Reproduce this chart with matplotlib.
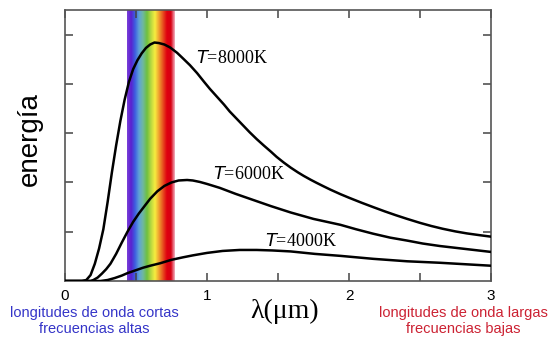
import numpy as np
import matplotlib
matplotlib.use("Agg")
import matplotlib.pyplot as plt
from matplotlib.colors import LinearSegmentedColormap

# curves: wavelength (um), energy (tick units)
lam_8000 = [0.0, 0.12, 0.15, 0.18, 0.21, 0.24, 0.27, 0.30, 0.33, 0.36, 0.39, 0.42,
            0.45, 0.48, 0.51, 0.54, 0.57, 0.60, 0.63, 0.66, 0.70, 0.74, 0.79, 0.83,
            0.88, 0.93, 0.98, 1.02, 1.07, 1.12, 1.16, 1.21, 1.26, 1.30, 1.35, 1.40,
            1.45, 1.49, 1.54, 1.59, 1.64, 1.68, 1.73, 1.77, 1.82, 1.87, 1.94, 2.0,
            2.09, 2.17, 2.25, 2.33, 2.41, 2.50, 2.58, 2.66, 2.75, 2.83, 2.92, 3.0]
e_8000 = [0.0, 0.0, 0.02, 0.12, 0.35, 0.66, 1.05, 1.6, 2.2, 2.75, 3.25, 3.68,
          4.04, 4.3, 4.48, 4.62, 4.73, 4.8, 4.84, 4.83, 4.8, 4.74, 4.63, 4.52,
          4.38, 4.22, 4.04, 3.9, 3.74, 3.58, 3.44, 3.29, 3.14, 3.02, 2.88, 2.75,
          2.625, 2.52, 2.405, 2.30, 2.205, 2.135, 2.055, 1.995, 1.923, 1.853, 1.762, 1.69,
          1.587, 1.5, 1.415, 1.335, 1.26, 1.18, 1.116, 1.06, 1.006, 0.966, 0.93, 0.9]

lam_6000 = [0.0, 0.18, 0.2, 0.23, 0.26, 0.29, 0.32, 0.36, 0.40, 0.44, 0.48, 0.52,
            0.56, 0.60, 0.65, 0.70, 0.75, 0.80, 0.86, 0.90, 0.95, 1.0, 1.09, 1.2,
            1.35, 1.45, 1.59, 1.75, 1.94, 2.05, 2.17, 2.29, 2.41, 2.52, 2.64, 2.82, 3.0]
e_6000 = [0.0, 0.0, 0.02, 0.07, 0.15, 0.24, 0.35, 0.55, 0.78, 1.0, 1.2, 1.37,
          1.52, 1.67, 1.82, 1.93, 2.0, 2.04, 2.05, 2.04, 2.01, 1.97, 1.89, 1.77,
          1.62, 1.52, 1.39, 1.26, 1.14, 1.05, 0.96, 0.88, 0.82, 0.76, 0.71, 0.65, 0.59]

lam_4000 = [0.0, 0.25, 0.3, 0.35, 0.40, 0.44, 0.5, 0.55, 0.6, 0.67, 0.75, 0.83,
            0.9, 1.0, 1.11, 1.23, 1.35, 1.46, 1.59, 1.76, 1.94, 2.17, 2.41, 2.64, 2.82, 3.0]
e_4000 = [0.0, 0.0, 0.02, 0.06, 0.11, 0.16, 0.22, 0.27, 0.31, 0.36, 0.43, 0.48,
          0.52, 0.57, 0.61, 0.63, 0.63, 0.62, 0.6, 0.55, 0.51, 0.45, 0.4, 0.37, 0.34, 0.31]

band = [0.437, 0.768]
band_colors = ["#7a40d8", "#5a20d0", "#3d5ee0", "#5fa2d8", "#6fb8a0", "#6ec040",
               "#b8d840", "#f6ee40", "#f0a030", "#e85020", "#e00010", "#d80012", "#f2b0c0"]

fig = plt.figure(figsize=(5.5, 3.42), dpi=100)
ax = fig.add_axes([65 / 550, 61 / 342, 426 / 550, 271 / 342])

cmap = LinearSegmentedColormap.from_list("spec", band_colors)
ax.imshow(np.linspace(0, 1, 256)[None, :], cmap=cmap, aspect="auto",
          extent=[band[0], band[1], 0, 5.5], zorder=0)

for lam, e in [(lam_8000, e_8000), (lam_6000, e_6000), (lam_4000, e_4000)]:
    ax.plot(lam, e, color="black", lw=1.8, solid_joinstyle="round", zorder=3)

ax.set_xlim(0, 3)
ax.set_ylim(0, 5.5)
ax.set_xticks([0, 1, 2, 3])
ax.set_xticks([0.5, 1.5, 2.5], minor=True)
ax.set_yticks([1, 2, 3, 4, 5])
ax.set_yticklabels([])
ax.tick_params(which="both", direction="in", top=True, right=True,
               length=6, width=1.1, color="#444444")
ax.tick_params(axis="x", labelsize=11, pad=6, labelfontfamily="Liberation Sans")
for s in ax.spines.values():
    s.set_color("#555555")
    s.set_linewidth(1.2)

tfont = {"family": "Liberation Serif", "size": 13}
ax.text(0.92, 4.43, r"$\it{T}$=8000K", **tfont)
ax.text(1.04, 2.06, r"$\it{T}$=6000K", **tfont)
ax.text(1.41, 0.71, r"$\it{T}$=4000K", **tfont)

fig.text(30 / 550, 1 - 139 / 342, "energía", fontsize=20, family="Liberation Sans",
         rotation=90, ha="center", va="center")
fig.text(285 / 550, 1 - 311 / 342, "λ(μm)", fontsize=20, family="Liberation Serif",
         ha="center", va="center")
fig.text(94 / 550, 1 - 321 / 342, "longitudes de onda cortas\nfrecuencias altas",
         color="#3535c8", fontsize=10.5, family="Liberation Sans", ha="center",
         va="center", linespacing=1.1)
fig.text(463 / 550, 1 - 321 / 342, "longitudes de onda largas\nfrecuencias bajas",
         color="#cc2233", fontsize=10.5, family="Liberation Sans", ha="center",
         va="center", linespacing=1.1)

fig.savefig("out.png", dpi=100)
